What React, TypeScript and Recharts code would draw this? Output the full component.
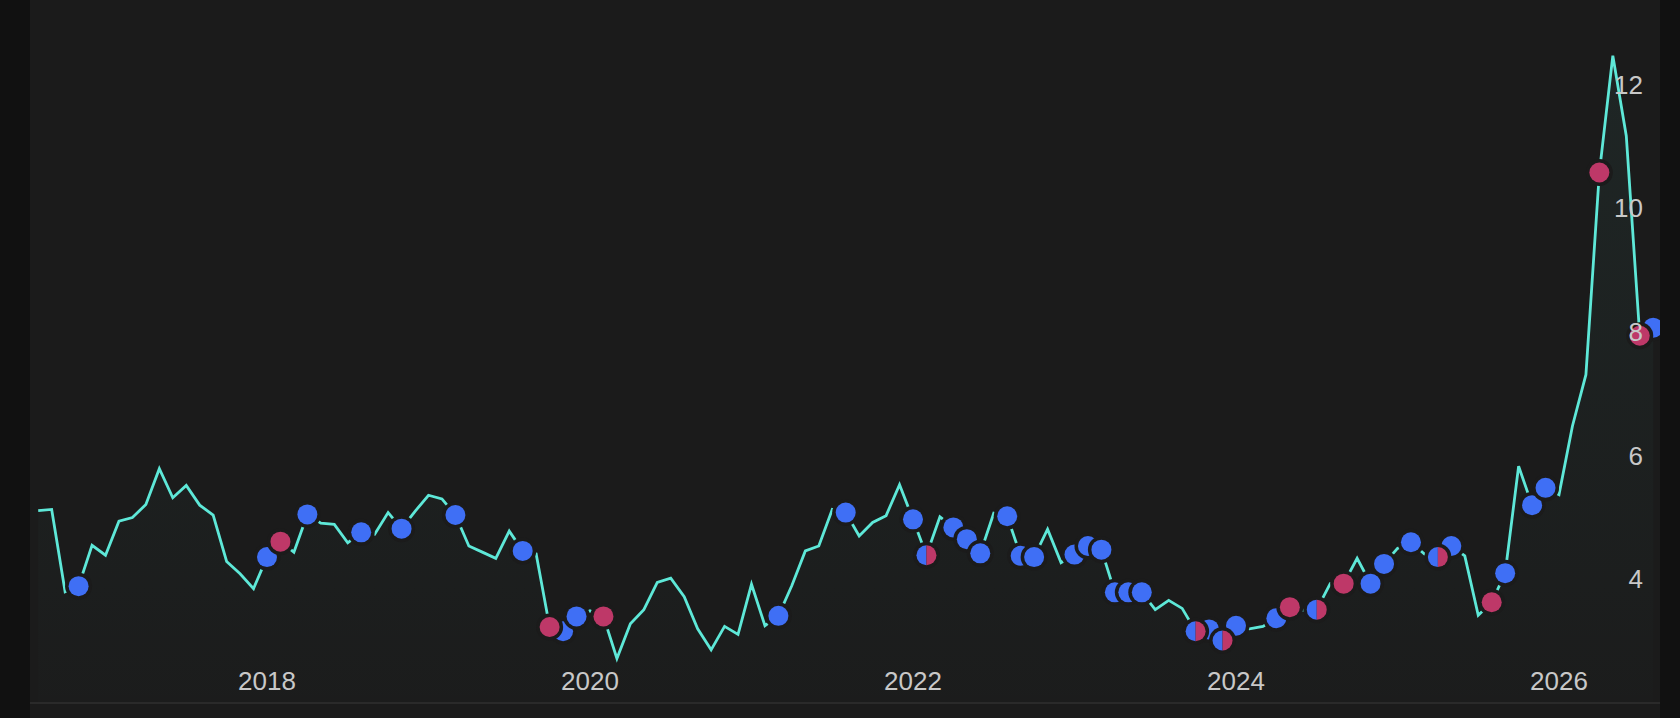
import React from 'react';
import { ComposedChart, Line, Area, XAxis, YAxis } from 'recharts';

// monthly values, starting Aug 2016
const startYear = 2016;
const startMonth = 8;

const values = [
  5.11, 5.13, 3.8, 3.89, 4.55, 4.39, 4.94, 5.0, 5.21, 5.79, 5.32, 5.52,
  5.2, 5.04, 4.29, 4.09, 3.85, 4.36, 4.61, 4.44, 5.05, 4.91, 4.89, 4.59,
  4.76, 4.73, 5.08, 4.82, 5.1, 5.36, 5.3, 5.04, 4.54, 4.44, 4.34, 4.78,
  4.46, 4.41, 3.23, 3.16, 3.4, 3.49, 3.4, 2.72, 3.28, 3.51, 3.95, 4.02,
  3.72, 3.2, 2.86, 3.24, 3.11, 3.92, 3.25, 3.41, 3.9, 4.46, 4.54, 5.13,
  5.08, 4.7, 4.92, 5.03, 5.53, 4.97, 4.39, 5.01, 4.84, 4.65, 4.42, 5.07,
  5.02, 4.38, 4.36, 4.81, 4.27, 4.4, 4.54, 4.48, 3.79, 3.79, 3.79, 3.51,
  3.66, 3.53, 3.16, 3.19, 3.01, 3.25, 3.2, 3.24, 3.37, 3.55, 3.5, 3.51,
  3.93, 3.93, 4.34, 3.93, 4.25, 4.5, 4.6, 4.41, 4.36, 4.54, 4.38, 3.42,
  3.63, 4.1, 5.83, 5.2, 5.48, 5.37, 6.48, 7.31, 10.58, 12.47, 11.17, 7.94,
  8.07,
];

const blueMonths = [
  '2016-11', '2018-01', '2018-04', '2018-08', '2018-11', '2019-03', '2019-08',
  '2019-11', '2019-12', '2021-03', '2021-08', '2022-01', '2022-04', '2022-05',
  '2022-06', '2022-08', '2022-09', '2022-10', '2023-01', '2023-02', '2023-03',
  '2023-04', '2023-05', '2023-06', '2023-11', '2024-01', '2024-04', '2024-11',
  '2024-12', '2025-02', '2025-05', '2025-09', '2025-11', '2025-12', '2026-08',
];
const redMonths = [
  '2018-02', '2019-10', '2020-02', '2024-05', '2024-09', '2025-08', '2026-04',
  '2026-07',
];
const splitMonths = ['2022-02', '2023-10', '2023-12', '2024-07', '2025-04'];

const yearTicks = [2018, 2020, 2022, 2024, 2026];
const valueTicks = [4, 6, 8, 10, 12];

const BLUE = '#3f6ff5';
const RED = '#be3868';
const LINE = '#5ee8d8';
const BG = '#1b1b1b';

const monthLabel = (i: number) => {
  const m = startMonth - 1 + i;
  const y = startYear + Math.floor(m / 12);
  return `${y}-${String((m % 12) + 1).padStart(2, '0')}`;
};

const data = values.map((v, i) => {
  const month = monthLabel(i);
  let mark = '';
  if (blueMonths.includes(month)) mark = 'b';
  if (redMonths.includes(month)) mark = 'r';
  if (splitMonths.includes(month)) mark = 's';
  return { t: startYear + (startMonth - 1 + i) / 12, v, month, mark };
});

const R = 10;

function makeDot(kinds: string[]) {
  return (props: any) => {
    const { cx, cy, index, payload } = props;
    if (!payload || !kinds.includes(payload.mark) || cx == null || cy == null) {
      return <g key={`e-${index}`} />;
    }
    return (
      <g key={`d-${index}`}>
        <circle cx={cx} cy={cy} r={R + 3.5} fill={BG} />
        {payload.mark === 's' ? (
          <>
            <path d={`M${cx},${cy - R} A${R},${R} 0 0 0 ${cx},${cy + R} Z`} fill={BLUE} />
            <path d={`M${cx},${cy - R} A${R},${R} 0 0 1 ${cx},${cy + R} Z`} fill={RED} />
          </>
        ) : (
          <circle cx={cx} cy={cy} r={R} fill={payload.mark === 'b' ? BLUE : RED} />
        )}
      </g>
    );
  };
}

const XTick = (p: any) => (
  <text x={p.x} y={690} textAnchor="middle" fill="#c8c8c8" fontSize={26}>
    {p.payload.value}
  </text>
);

const YTick = (p: any) => (
  <text x={1613} y={p.y + 9} textAnchor="end" fill="#c8c8c8" fontSize={26}>
    {p.payload.value}
  </text>
);

export default function App() {
  return (
    <div
      style={{
        position: 'absolute',
        left: 0,
        top: 0,
        width: 1680,
        height: 718,
        background: '#111111',
        fontFamily: '"Liberation Sans", Arial, sans-serif',
      }}
    >
      <div style={{ position: 'absolute', left: 30, top: 0, width: 1630, height: 718, background: BG }}>
        <ComposedChart width={1630} height={718} data={data} margin={{ top: 0, right: 0, left: 0, bottom: 15 }}>
          <defs>
            <linearGradient id="areaFill" x1="0" y1="0" x2="0" y2="1">
              <stop offset="0%" stopColor={LINE} stopOpacity={0.09} />
              <stop offset="100%" stopColor={LINE} stopOpacity={0.01} />
            </linearGradient>
          </defs>
          <XAxis
            dataKey="t"
            type="number"
            domain={[2016.5325, 2026.6254]}
            allowDataOverflow
            ticks={yearTicks}
            tick={<XTick />}
            tickLine={false}
            axisLine={{ stroke: '#2a2a2a', strokeWidth: 2 }}
            mirror
          />
          <YAxis
            orientation="right"
            type="number"
            domain={[2, 13.37]}
            allowDataOverflow
            ticks={valueTicks}
            tick={<YTick />}
            tickLine={false}
            axisLine={false}
            mirror
          />
          <Area
            type="linear"
            dataKey="v"
            stroke="none"
            fill="url(#areaFill)"
            isAnimationActive={false}
            activeDot={false}
          />
          <Line
            type="linear"
            dataKey="v"
            stroke={LINE}
            strokeWidth={2.8}
            dot={false}
            activeDot={false}
            isAnimationActive={false}
          />
          <Line
            type="linear"
            dataKey="v"
            stroke="none"
            dot={makeDot(['b'])}
            activeDot={false}
            isAnimationActive={false}
          />
          <Line
            type="linear"
            dataKey="v"
            stroke="none"
            dot={makeDot(['r', 's'])}
            activeDot={false}
            isAnimationActive={false}
          />
        </ComposedChart>
      </div>
    </div>
  );
}
